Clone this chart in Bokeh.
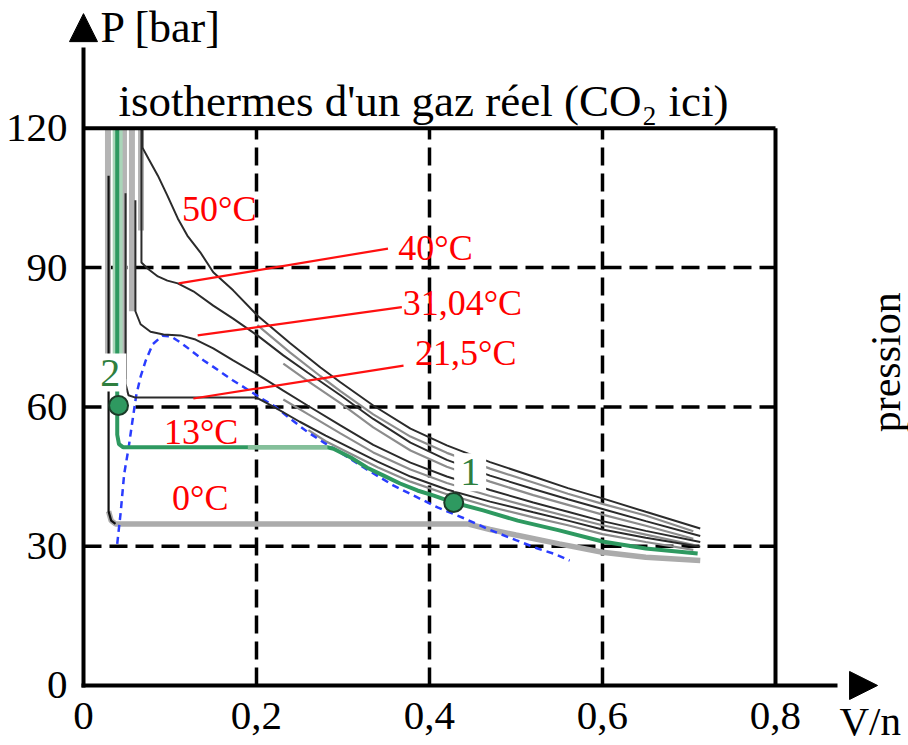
import math
from bokeh.plotting import figure
from bokeh.models import Range1d, FixedTicker, CustomJSTickFormatter, Label, Arrow, NormalHead
from bokeh.embed import file_html
from bokeh.resources import INLINE

# ---------------- data ----------------
x_ticks = [0, 0.2, 0.4, 0.6, 0.8]
y_ticks = [0, 30, 60, 90, 120]
grid_x = [0.2, 0.4, 0.6]
grid_y = [30, 60, 90]
box_x = [0, 0.8]
box_y = [0, 120]

# 0 degC isotherm (liquid branch black, plateau + gas branch thick grey)
T0_liq_x = [0.029, 0.029, 0.032, 0.037]
T0_liq_y = [109.8, 37.5, 35.5, 34.8]
T0_x = [0.029, 0.032, 0.037, 0.444, 0.47, 0.50, 0.55, 0.60, 0.65, 0.713]
T0_y = [37.5, 35.5, 34.8, 34.8, 33.6, 32.4, 30.5, 28.7, 27.6, 26.9]

# 13 degC isotherm (green)
T13_x = [0.039, 0.039, 0.041, 0.046, 0.282, 0.289, 0.309, 0.328, 0.347, 0.366, 0.386, 0.405, 0.428, 0.462, 0.502, 0.55, 0.60, 0.65, 0.71]
T13_y = [120, 54.0, 52.0, 51.3, 51.3, 51.0, 49.1, 46.9, 45.2, 43.5, 42.0, 40.9, 39.4, 37.7, 35.5, 33.4, 31.0, 29.5, 28.4]
T13_light_x = [0.19, 0.282]
T13_light_y = [51.3, 51.3]

# 21.5 degC
T21_x = [0.0486, 0.0486, 0.052, 0.060, 0.200, 0.22, 0.25, 0.28, 0.31, 0.34, 0.378, 0.42, 0.47, 0.52, 0.56, 0.60, 0.65, 0.713]
T21_y = [106.0, 65.0, 62.5, 62.0, 62.0, 60.0, 56.8, 53.8, 51.0, 48.2, 45.0, 42.2, 39.6, 37.3, 35.5, 33.6, 31.8, 29.9]
# 31.04 degC (critical)
T31_x = [0.060, 0.060, 0.066, 0.0775, 0.0925, 0.112, 0.1295, 0.150, 0.173, 0.201, 0.231, 0.259, 0.297, 0.335, 0.378, 0.42, 0.47, 0.52, 0.56, 0.60, 0.65, 0.713]
T31_y = [104.5, 80.6, 77.8, 76.2, 75.6, 75.4, 74.5, 72.6, 70.0, 67.0, 63.5, 60.3, 56.0, 51.8, 48.0, 45.0, 42.1, 39.4, 37.4, 35.4, 33.3, 30.9]
# 40 degC
T40_x = [0.067, 0.067, 0.074, 0.086, 0.097, 0.109, 0.127, 0.150, 0.173, 0.201, 0.231, 0.259, 0.297, 0.335, 0.378, 0.42, 0.47, 0.52, 0.56, 0.60, 0.65, 0.713]
T40_y = [120, 91.1, 89.8, 88.1, 87.2, 86.6, 84.9, 81.8, 79.0, 75.4, 71.1, 67.4, 62.5, 57.4, 52.3, 48.6, 45.2, 42.3, 40.1, 38.0, 35.4, 32.2]
# 50 degC
T50_x = [0.068, 0.068, 0.075, 0.086, 0.097, 0.109, 0.120, 0.135, 0.150, 0.173, 0.201, 0.239, 0.274, 0.297, 0.335, 0.378, 0.42, 0.47, 0.52, 0.56, 0.60, 0.65, 0.713]
T50_y = [120, 115.9, 113.5, 109.8, 105.5, 100.6, 96.9, 93.3, 89.0, 85.1, 79.7, 73.7, 68.5, 65.3, 60.3, 55.3, 51.7, 48.1, 45.0, 42.5, 40.3, 37.4, 33.8]

# grey twin curves (measured set)
G50_x = [0.201, 0.239, 0.274, 0.297, 0.335, 0.378, 0.42, 0.47, 0.52, 0.56, 0.60, 0.65, 0.705]
G50_y = [77.6, 71.7, 66.6, 63.4, 58.4, 53.6, 50.1, 46.7, 43.7, 41.3, 39.1, 36.6, 33.2]
G40_x = [0.231, 0.259, 0.297, 0.335, 0.378, 0.42, 0.47, 0.52, 0.56, 0.60, 0.65, 0.705]
G40_y = [69.3, 65.6, 60.8, 55.6, 50.6, 47.1, 43.9, 41.0, 38.9, 36.8, 34.4, 31.6]
G31_x = [0.231, 0.259, 0.297, 0.335, 0.378, 0.42, 0.47, 0.52, 0.56, 0.60, 0.65, 0.705]
G31_y = [61.6, 58.5, 54.3, 50.2, 46.5, 43.6, 40.8, 38.3, 36.4, 34.5, 32.5, 30.3]
G21_x = [0.26, 0.28, 0.31, 0.34, 0.378, 0.42, 0.47, 0.52, 0.56, 0.60, 0.65, 0.705]
G21_y = [55.0, 52.6, 49.8, 47.0, 43.9, 41.2, 38.5, 36.2, 34.5, 32.6, 30.9, 29.2]

# grey liquid bands near the top
band_x = [0.0283, 0.0468, 0.0560, 0.0665]
band_top = [120, 120, 120, 120]
band_bottom = [66, 66, 80.6, 98]
green_band_x = [0.0395]
green_band_top = [120]
green_band_bottom = [66]

# saturation dome (blue dashed)
dome_x = [0.039, 0.043, 0.047, 0.052, 0.057, 0.061, 0.066, 0.072, 0.080, 0.091, 0.101, 0.112, 0.124, 0.139, 0.155, 0.172, 0.190, 0.205, 0.222, 0.240, 0.259, 0.278, 0.300, 0.328, 0.358, 0.386, 0.410, 0.440, 0.470, 0.500, 0.525, 0.545, 0.562]
dome_y = [30.5, 37.3, 45.5, 51.0, 57.5, 62.5, 66.5, 70.0, 73.5, 75.3, 75.2, 73.9, 72.2, 70.0, 68.0, 65.8, 63.7, 61.9, 60.0, 57.3, 54.6, 52.3, 49.8, 46.5, 43.1, 40.5, 38.3, 36.0, 33.5, 31.3, 29.5, 28.3, 26.9]

# red leader lines and labels
lead_x0 = [0.110, 0.132, 0.127]
lead_y0 = [86.6, 75.4, 61.8]
lead_x1 = [0.352, 0.368, 0.370]
lead_y1 = [94.1, 81.5, 68.9]
temp_labels = ["50°C", "40°C", "31,04°C", "21,5°C", "13°C", "0°C"]
temp_lx = [0.157, 0.407, 0.438, 0.442, 0.136, 0.135]
temp_ly = [102.7, 94.3, 82.3, 71.7, 54.5, 40.3]

# state points
pt_x = [0.428, 0.0405]
pt_y = [39.4, 60.3]
pt_labels = ["1", "2"]
pt_lx = [0.447, 0.031]
pt_ly = [45.9, 67.4]

SERIF = "Liberation Serif"

# ---------------- figure ----------------
p = figure(width=908, height=745, output_backend="svg", toolbar_location=None,
           x_range=Range1d(-0.09595, 0.95376), y_range=Range1d(-12.93, 147.53),
           min_border=0)
p.min_border_left = p.min_border_right = p.min_border_top = p.min_border_bottom = 0
p.outline_line_color = None
p.grid.visible = False
p.background_fill_color = "white"
p.border_fill_color = "white"

xa = p.xaxis[0]
ya = p.yaxis[0]
xa.fixed_location = 0
ya.fixed_location = 0
for ax in (xa, ya):
    ax.axis_line_width = 4
    ax.axis_line_color = "black"
    ax.major_tick_line_color = None
    ax.minor_tick_line_color = None
    ax.major_label_text_font = SERIF
    ax.major_label_text_font_size = "41px"
    ax.major_label_text_color = "black"
xa.ticker = FixedTicker(ticks=x_ticks)
ya.ticker = FixedTicker(ticks=y_ticks)
xa.formatter = CustomJSTickFormatter(code="return tick == 0 ? '0' : tick.toFixed(1).replace('.', ',');")
xa.bounds = (-0.0025, 0.872)
ya.bounds = (-0.45, 137.5)
xa.major_label_standoff = 12
ya.major_label_standoff = 10

# arrow heads
p.add_layout(Arrow(end=NormalHead(size=28, fill_color="black", line_color="black"),
                   x_start=0, y_start=137, x_end=0, y_end=144.7, line_alpha=0))
p.add_layout(Arrow(end=NormalHead(size=28, fill_color="black", line_color="black"),
                   x_start=0.872, y_start=0, x_end=0.918, y_end=0, line_alpha=0))

# dashed grid inside the box
p.segment(x0=grid_x, y0=[box_y[0]] * len(grid_x), x1=grid_x, y1=[box_y[1]] * len(grid_x),
          line_color="black", line_width=3.5, line_dash="18 8")
p.segment(x0=[box_x[0]] * len(grid_y), y0=grid_y, x1=[box_x[1]] * len(grid_y), y1=grid_y,
          line_color="black", line_width=3.5, line_dash="18 8")

# liquid bands
p.segment(x0=band_x, y0=band_top, x1=band_x, y1=band_bottom, line_color="#b4b4b4", line_width=6)
p.segment(x0=green_band_x, y0=green_band_top, x1=green_band_x, y1=green_band_bottom,
          line_color="#a9d6b9", line_width=10)

# grey twin curves
for gx, gy in ((G50_x, G50_y), (G40_x, G40_y), (G31_x, G31_y), (G21_x, G21_y)):
    p.line(gx, gy, line_color="#8c8c8c", line_width=2.2)

# 0 degC
p.line(T0_x, T0_y, line_color="#ababab", line_width=5.5)
p.line(T0_liq_x, T0_liq_y, line_color="#111111", line_width=2.2)

# blue dome
p.line(dome_x, dome_y, line_color="#2a3cff", line_width=2.5, line_dash="7 5")

# upper isotherms
for tx, ty in ((T21_x, T21_y), (T31_x, T31_y), (T40_x, T40_y), (T50_x, T50_y)):
    p.line(tx, ty, line_color="#2b2b2b", line_width=2)

# 13 degC green
p.line(T13_x, T13_y, line_color="#2e9960", line_width=4)
p.line(T13_light_x, T13_light_y, line_color="#84bf9a", line_width=4.5)

# box (top and right borders)
p.segment(x0=[box_x[0]], y0=[box_y[1]], x1=[box_x[1]], y1=[box_y[1]], line_color="black", line_width=4)
p.segment(x0=[box_x[1]], y0=[box_y[0]], x1=[box_x[1]], y1=[box_y[1]], line_color="black", line_width=4)

# red leader lines
p.segment(x0=lead_x0, y0=lead_y0, x1=lead_x1, y1=lead_y1, line_color="#ff1010", line_width=2.2)

# state points (above label boxes)
pts = p.scatter(pt_x, pt_y, size=19, fill_color="#2e9960", line_color="#1b3b28", line_width=2)
pts.level = "overlay"

# texts
for t, lx, ly in zip(temp_labels, temp_lx, temp_ly):
    p.add_layout(Label(x=lx, y=ly, text=t, text_font=SERIF, text_font_size="36px",
                       text_color="#ff0000", text_align="center", text_baseline="middle"))
for t, lx, ly in zip(pt_labels, pt_lx, pt_ly):
    p.add_layout(Label(x=lx, y=ly, text=t, text_font=SERIF, text_font_size="40px",
                       text_color="#2f7f3f", text_align="center", text_baseline="middle",
                       background_fill_color="white", padding=6))

p.add_layout(Label(x=0.0197, y=141.7, text="P [bar]", text_font=SERIF, text_font_size="44px",
                   text_color="black", text_align="left", text_baseline="alphabetic"))
p.add_layout(Label(x=0.0405, y=125.8, text="isothermes d'un gaz réel (CO₂ ici)", text_font=SERIF,
                   text_font_size="45px", text_color="black", text_align="left",
                   text_baseline="alphabetic"))
p.add_layout(Label(x=0.874, y=-7.7, text="V/n", text_font=SERIF, text_font_size="41px",
                   text_color="black", text_align="left", text_baseline="alphabetic"))
p.add_layout(Label(x=0.928, y=69.6, text="pression", text_font=SERIF, text_font_size="42px",
                   text_color="black", text_align="center", text_baseline="alphabetic",
                   angle=math.pi / 2))

open("out.html", "w").write(file_html(p, INLINE))
